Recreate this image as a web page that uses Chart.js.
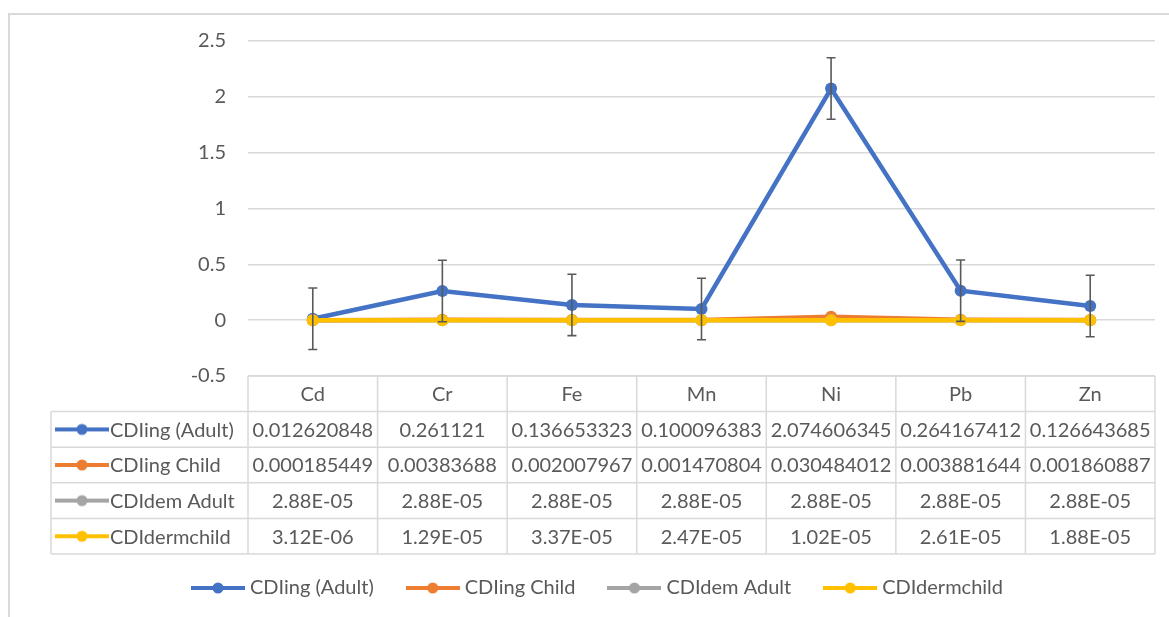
<!DOCTYPE html>
<html>
<head>
<meta charset="utf-8">
<script src="https://cdn.jsdelivr.net/npm/chart.js@4.4.1/dist/chart.umd.min.js"></script>
<style>
	html, body { margin: 0; padding: 0; background: #fff; }
	#wrap { position: relative; width: 1169px; height: 617px; }
</style>
</head>
<body>
<div id="wrap"><canvas id="graph" width="1169" height="617"></canvas></div>
<script>
// data
var categories = ['Cd', 'Cr', 'Fe', 'Mn', 'Ni', 'Pb', 'Zn'];
var seriesNames = ['CDIing (Adult)', 'CDIing Child', 'CDIdem Adult', 'CDIdermchild'];
var ingAdult = [0.012620848, 0.261121, 0.136653323, 0.100096383, 2.074606345, 0.264167412, 0.126643685];
var ingChild = [0.000185449, 0.00383688, 0.002007967, 0.001470804, 0.030484012, 0.003881644, 0.001860887];
var demAdult = [2.88e-5, 2.88e-5, 2.88e-5, 2.88e-5, 2.88e-5, 2.88e-5, 2.88e-5];
var dermChild = [3.12e-6, 1.29e-5, 3.37e-5, 2.47e-5, 1.02e-5, 2.61e-5, 1.88e-5];
var ingAdultErr = [0.275, 0.275, 0.275, 0.275, 0.275, 0.275, 0.275];
var yTicks = [-0.5, 0, 0.5, 1, 1.5, 2, 2.5];

var colors = ['#4472C4', '#ED7D31', '#A5A5A5', '#FFC000'];
var textColor = '#595959';
var gridColor = '#D9D9D9';
var fontFamily = 'Lato, "Open Sans", sans-serif';
var fontSize = 20;

// Excel "General" style text for the table
function fmt(v) {
	if (Math.abs(v) < 0.0001) {
		var s = v.toExponential(2).toUpperCase();
		return s.replace(/E([+-])(\d)$/, 'E$10$2');
	}
	return v.toFixed(9).replace(/0+$/, '').replace(/\.$/, '');
}

// marker: line with a dot in the middle
function makeMarker(color) {
	var c = document.createElement('canvas');
	c.width = 54; c.height = 14;
	var x = c.getContext('2d');
	x.strokeStyle = color;
	x.lineWidth = 4;
	x.beginPath(); x.moveTo(0, 7); x.lineTo(54, 7); x.stroke();
	x.fillStyle = color;
	x.beginPath(); x.arc(27, 7, 5.5, 0, Math.PI * 2); x.fill();
	return c;
}
var markers = colors.map(makeMarker);

var allData = [ingAdult, ingChild, demAdult, dermChild];

// error bars on the adult ingestion series
var errorBars = {
	id: 'errorBars',
	afterDatasetsDraw: function(chart) {
		var ctx = chart.ctx, x = chart.scales.x, y = chart.scales.y;
		ctx.save();
		ctx.strokeStyle = textColor;
		ctx.lineWidth = 1.6;
		ingAdult.forEach(function(v, i) {
			var px = x.getPixelForValue(i);
			var top = y.getPixelForValue(v + ingAdultErr[i]);
			var bot = y.getPixelForValue(v - ingAdultErr[i]);
			ctx.beginPath();
			ctx.moveTo(px, top); ctx.lineTo(px, bot);
			ctx.moveTo(px - 4.5, top); ctx.lineTo(px + 4.5, top);
			ctx.moveTo(px - 4.5, bot); ctx.lineTo(px + 4.5, bot);
			ctx.stroke();
		});
		ctx.restore();
	}
};

// legend centring leaves room for a trailing gap; push it back right
var legendShift = {
	id: 'legendShift',
	afterLayout: function(chart) {
		chart.legend.left += 22;
		chart.legend.right += 22;
	}
};

// data table under the plot, columns taken from the x scale
var dataTable = {
	id: 'dataTable',
	beforeDraw: function(chart) {
		var ctx = chart.ctx;
		ctx.save();
		ctx.strokeStyle = gridColor;
		ctx.lineWidth = 2;
		ctx.beginPath();
		ctx.moveTo(9, chart.height); ctx.lineTo(9, 14); ctx.lineTo(chart.width, 14);
		ctx.stroke();
		ctx.restore();
	},
	afterDraw: function(chart) {
		var ctx = chart.ctx, x = chart.scales.x, area = chart.chartArea;
		var rowH = 35.6, labelLeft = 51;
		var top = area.bottom, left = area.left, right = area.right;
		var half = (right - left) / categories.length / 2;
		var bottom = top + rowH * 5;
		ctx.save();
		ctx.strokeStyle = gridColor;
		ctx.lineWidth = 1.5;
		ctx.beginPath();
		// header row
		ctx.moveTo(left, top); ctx.lineTo(right, top);
		for (var r = 1; r <= 5; r++) {
			ctx.moveTo(labelLeft, top + rowH * r); ctx.lineTo(right, top + rowH * r);
		}
		ctx.moveTo(labelLeft, top + rowH); ctx.lineTo(labelLeft, bottom);
		for (var i = 0; i < categories.length; i++) {
			var cx = x.getPixelForValue(i) - half;
			ctx.moveTo(cx, top); ctx.lineTo(cx, bottom);
		}
		ctx.moveTo(right, top); ctx.lineTo(right, bottom);
		ctx.stroke();

		ctx.fillStyle = textColor;
		ctx.font = fontSize + 'px ' + fontFamily;
		ctx.textBaseline = 'middle';
		ctx.textAlign = 'center';
		categories.forEach(function(c, i) {
			ctx.fillText(c, x.getPixelForValue(i), top + rowH / 2 + 1);
		});
		allData.forEach(function(arr, s) {
			var cy = top + rowH * (s + 1) + rowH / 2 + 1;
			ctx.textAlign = 'center';
			arr.forEach(function(v, i) {
				ctx.fillText(fmt(v), x.getPixelForValue(i), cy);
			});
			ctx.drawImage(markers[s], labelLeft + 4, cy - 8);
			ctx.textAlign = 'left';
			ctx.fillText(seriesNames[s], labelLeft + 59, cy);
		});
		ctx.restore();
	}
};

var datasets = allData.map(function(arr, s) {
	return {
		label: seriesNames[s],
		data: arr,
		borderColor: colors[s],
		backgroundColor: colors[s],
		borderWidth: 4.5,
		pointRadius: 6,
		pointHoverRadius: 6,
		pointBorderWidth: 0,
		tension: 0,
		order: 3 - s
	};
});

var chart = new Chart(document.getElementById('graph'), {
	type: 'line',
	data: { labels: categories, datasets: datasets },
	plugins: [errorBars, dataTable, legendShift],
	options: {
		responsive: false,
		animation: false,
		layout: { padding: { left: 0, top: 41, right: 14, bottom: 9 } },
		scales: {
			x: {
				offset: true,
				grid: { display: false },
				border: { display: false },
				ticks: { display: false },
				afterFit: function(s) {
					s.height = 165;
					s.paddingLeft = 0; s.paddingRight = 0;
				}
			},
			y: {
				min: -0.5,
				max: 2.5,
				afterBuildTicks: function(s) {
					s.ticks = yTicks.map(function(v) { return { value: v }; });
				},
				grid: { color: gridColor, lineWidth: 1.5, drawTicks: false },
				border: { display: false },
				ticks: {
					color: textColor,
					padding: 22,
					font: { family: fontFamily, size: fontSize },
					callback: function(v) { return String(v); }
				},
				afterFit: function(s) {
					s.width = 248;
					s.paddingTop = 0; s.paddingBottom = 0;
				}
			}
		},
		plugins: {
			tooltip: { enabled: false },
			legend: {
				position: 'bottom',
				labels: {
					color: textColor,
					font: { family: fontFamily, size: fontSize },
					usePointStyle: true,
					pointStyleWidth: 44,
					padding: 37,
					sort: function(a, b) { return a.datasetIndex - b.datasetIndex; },
					generateLabels: function(c) {
						var items = Chart.defaults.plugins.legend.labels.generateLabels(c);
						items.forEach(function(it) { it.pointStyle = markers[it.datasetIndex]; });
						return items;
					}
				}
			}
		}
	}
});
</script>
</body>
</html>
